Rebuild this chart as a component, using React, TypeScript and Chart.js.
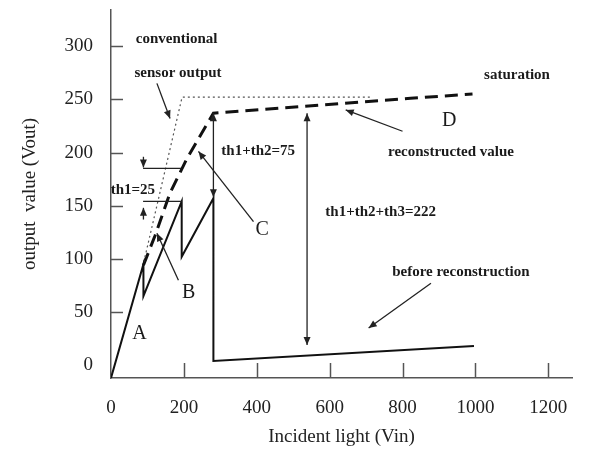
import React, { useEffect, useRef } from "react";
import { Chart, registerables } from "chart.js";

Chart.register(...registerables);

// ---- data ----
const xTicks = [0, 200, 400, 600, 800, 1000, 1200];
const yTicks = [0, 50, 100, 150, 200, 250, 300];

// sensor output before reconstruction (sawtooth)
const beforeX = [0, 89, 89, 194, 194, 281, 281, 996];
const beforeY = [-12, 95, 65, 154, 102, 157, 4, 18];

// conventional sensor output
const conventionalX = [90, 195, 717];
const conventionalY = [97, 252, 252];

// reconstructed value
const reconstructedX = [89, 121, 162, 208, 281, 822, 992];
const reconstructedY = [94, 122, 162, 194, 237, 251, 255];

// ---- annotations (data coordinates) ----
const SMALL = "bold 15px 'Liberation Serif', 'Times New Roman', serif";
const BIG = "20px 'Liberation Serif', 'Times New Roman', serif";

const textNotes = [
  { text: "conventional", x: 180, y: 307, font: SMALL },
  { text: "sensor output", x: 184, y: 275, font: SMALL },
  { text: "th1=25", x: 60, y: 165, font: SMALL },
  { text: "th1+th2=75", x: 404, y: 201, font: SMALL },
  { text: "th1+th2+th3=222", x: 740, y: 144, font: SMALL },
  { text: "reconstructed value", x: 933, y: 200, font: SMALL },
  { text: "saturation", x: 1114, y: 273, font: SMALL },
  { text: "before reconstruction", x: 960, y: 88, font: SMALL },
  { text: "A", x: 78, y: 30, font: BIG },
  { text: "B", x: 213, y: 68, font: BIG },
  { text: "C", x: 415, y: 127, font: BIG },
  { text: "D", x: 928, y: 230, font: BIG },
];

// arrows: [x1, y1, x2, y2, heads] heads: 1 = head at end, 2 = both ends, 0 = none
const arrowNotes: [number, number, number, number, number][] = [
  [126, 265, 162, 232, 1], // sensor output pointer
  [89, 196, 89, 186, 1], // th1 top arrow
  [89, 137, 89, 148, 1], // th1 bottom arrow
  [88, 185, 193, 185, 0], // th1 upper bracket line
  [88, 154, 194, 154, 0], // th1 lower bracket line
  [281, 237, 281, 158, 2], // th1+th2 double arrow
  [538, 237, 538, 19, 2], // th1+th2+th3 double arrow
  [391, 135, 240, 201, 1], // C pointer
  [185, 80, 126, 124, 1], // B pointer
  [800, 220, 644, 240, 1], // reconstructed value pointer
  [878, 77, 707, 35, 1], // before reconstruction pointer
];

const annotationPlugin = {
  id: "annotations",
  afterDraw(chart: any) {
    const { ctx, scales } = chart;
    const xs = scales.x;
    const ys = scales.y;
    const px = (v: number) => xs.getPixelForValue(v);
    const py = (v: number) => ys.getPixelForValue(v);
    const area = chart.chartArea;
    ctx.save();

    // inward tick marks
    ctx.strokeStyle = "#555";
    ctx.lineWidth = 1.5;
    yTicks.forEach((v) => {
      if (v === 0) return;
      const y = Math.round(py(v)) + 0.5;
      ctx.beginPath();
      ctx.moveTo(area.left, y);
      ctx.lineTo(area.left + 12, y);
      ctx.stroke();
    });
    xTicks.forEach((v) => {
      if (v === 0) return;
      const x = Math.round(px(v)) + 0.5;
      ctx.beginPath();
      ctx.moveTo(x, area.bottom);
      ctx.lineTo(x, area.bottom - 15);
      ctx.stroke();
    });

    // arrows and bracket lines
    const head = (x1: number, y1: number, x2: number, y2: number) => {
      const a = Math.atan2(y2 - y1, x2 - x1);
      const L = 8;
      const W = 3.5;
      ctx.beginPath();
      ctx.moveTo(x2, y2);
      ctx.lineTo(x2 - L * Math.cos(a) + W * Math.sin(a), y2 - L * Math.sin(a) - W * Math.cos(a));
      ctx.lineTo(x2 - L * Math.cos(a) - W * Math.sin(a), y2 - L * Math.sin(a) + W * Math.cos(a));
      ctx.closePath();
      ctx.fill();
    };
    ctx.strokeStyle = "#222";
    ctx.fillStyle = "#222";
    ctx.lineWidth = 1.3;
    arrowNotes.forEach(([a, b, c, d, h]) => {
      const x1 = px(a), y1 = py(b), x2 = px(c), y2 = py(d);
      ctx.beginPath();
      ctx.moveTo(x1, y1);
      ctx.lineTo(x2, y2);
      ctx.stroke();
      if (h >= 1) head(x1, y1, x2, y2);
      if (h === 2) head(x2, y2, x1, y1);
    });

    // texts
    ctx.textAlign = "center";
    ctx.textBaseline = "middle";
    ctx.fillStyle = "#1a1a1a";
    textNotes.forEach((t) => {
      ctx.font = t.font;
      ctx.fillText(t.text, px(t.x), py(t.y));
    });
    ctx.restore();
  },
};

const zip = (xs: number[], ys: number[]) => xs.map((x, i) => ({ x, y: ys[i] }));

export default function App() {
  const ref = useRef<HTMLCanvasElement | null>(null);

  useEffect(() => {
    if (!ref.current) return;
    const tickFont = { family: "'Liberation Serif', 'Times New Roman', serif", size: 19 };
    const chart = new Chart(ref.current, {
      type: "line",
      data: {
        datasets: [
          {
            label: "before reconstruction",
            data: zip(beforeX, beforeY),
            borderColor: "#111",
            borderWidth: 2,
            pointRadius: 0,
            tension: 0,
          },
          {
            label: "conventional sensor output",
            data: zip(conventionalX, conventionalY),
            borderColor: "#555",
            borderWidth: 1.2,
            borderDash: [2, 3],
            pointRadius: 0,
            tension: 0,
          },
          {
            label: "reconstructed value",
            data: zip(reconstructedX, reconstructedY),
            borderColor: "#111",
            borderWidth: 3,
            borderDash: [13, 7],
            pointRadius: 0,
            tension: 0,
          },
        ],
      },
      options: {
        animation: false,
        responsive: false,
        devicePixelRatio: 1,
        layout: { padding: { left: 0, top: 10, right: 18, bottom: 0 } },
        plugins: { legend: { display: false }, tooltip: { enabled: false } },
        scales: {
          x: {
            type: "linear",
            min: 0,
            max: 1265,
            afterBuildTicks: (s: any) => {
              s.ticks = xTicks.map((v) => ({ value: v }));
            },
            afterFit: (s: any) => {
              s.height = 79;
              s.paddingLeft = 0;
              s.paddingRight = 0;
            },
            grid: { display: false, drawTicks: false },
            border: { display: true, color: "#555", width: 1.5 },
            ticks: {
              padding: 19,
              color: "#222",
              font: tickFont,
              autoSkip: false,
              maxRotation: 0,
              callback: (v: any) => String(v),
            },
            title: {
              display: true,
              text: "Incident light (Vin)",
              color: "#222",
              font: tickFont,
              padding: { top: 0, bottom: 9 },
            },
          },
          y: {
            type: "linear",
            min: -12,
            max: 334,
            afterBuildTicks: (s: any) => {
              s.ticks = yTicks.map((v) => ({ value: v }));
            },
            afterFit: (s: any) => {
              s.width = 111;
              s.paddingTop = 0;
              s.paddingBottom = 0;
            },
            grid: { display: false, drawTicks: false },
            border: { display: true, color: "#555", width: 1.5 },
            ticks: {
              padding: 18,
              color: "#222",
              font: tickFont,
              autoSkip: false,
              callback: (v: any) => String(v),
            },
            title: {
              display: true,
              text: "output  value (Vout)",
              color: "#222",
              font: tickFont,
              padding: { top: 19, bottom: 0 },
            },
          },
        },
      },
      plugins: [annotationPlugin],
    });
    return () => chart.destroy();
  }, []);

  return (
    <div style={{ position: "fixed", left: 0, top: 0, width: 590, height: 457, background: "#fff" }}>
      <canvas ref={ref} width={590} height={457} style={{ width: 590, height: 457, display: "block" }} />
    </div>
  );
}
